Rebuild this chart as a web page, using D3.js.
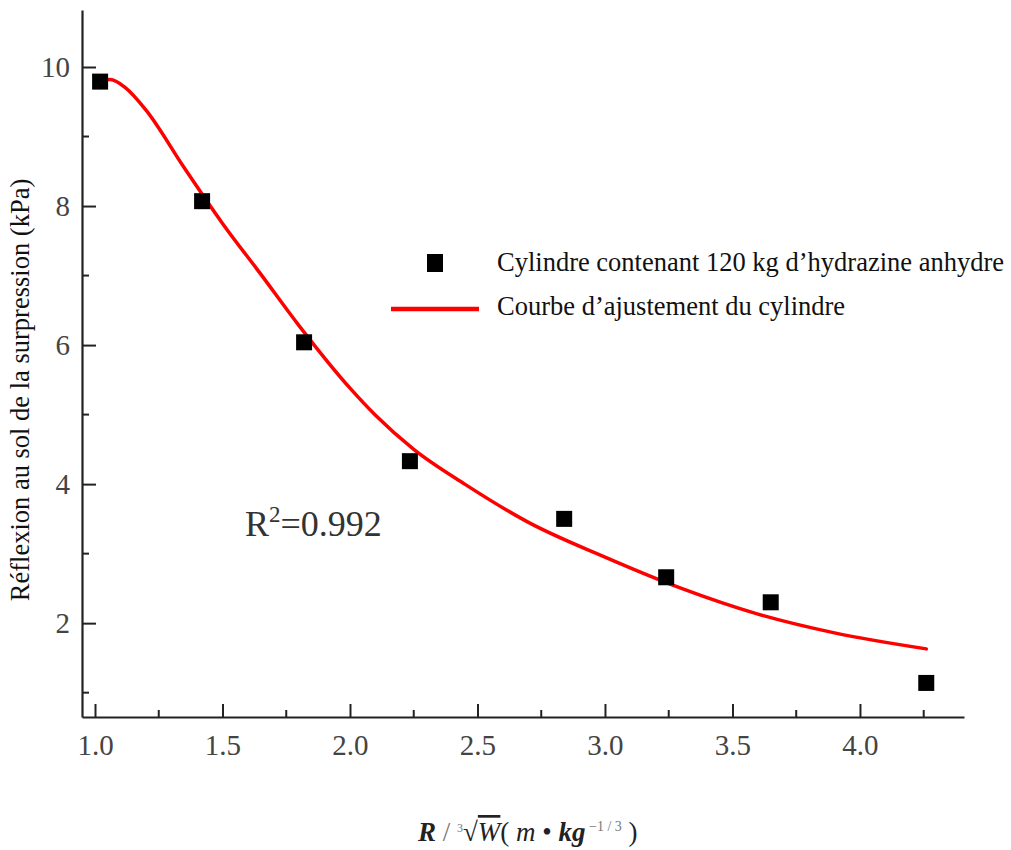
<!DOCTYPE html>
<html>
<head>
<meta charset="utf-8">
<script src="https://cdn.jsdelivr.net/npm/d3@7"></script>
<style>
  body { margin: 0; background: #fff; }
  text { font-family: "Liberation Serif", "Times New Roman", serif; }
</style>
</head>
<body>
<div id="root"></div>
<script>
// measured points (scaled distance vs overpressure)
var pointX = [1.02, 1.42, 1.82, 2.235, 2.84, 3.24, 3.65, 4.26];
var pointY = [9.79, 8.07, 6.04, 4.33, 3.50, 2.66, 2.30, 1.14];

// fitted curve
var fitX = [1.02, 1.06, 1.12, 1.20, 1.35, 1.50, 1.65, 1.80, 2.00, 2.10, 2.25, 2.45, 2.70, 3.00, 3.30, 3.60, 3.90, 4.26];
var fitY = [9.80, 9.82, 9.70, 9.38, 8.55, 7.75, 7.02, 6.28, 5.38, 4.99, 4.50, 4.00, 3.45, 2.95, 2.50, 2.13, 1.86, 1.63];

var xTicks = [1.0, 1.5, 2.0, 2.5, 3.0, 3.5, 4.0];
var xMinor = [1.25, 1.75, 2.25, 2.75, 3.25, 3.75, 4.25];
var yTicks = [2, 4, 6, 8, 10];
var yMinor = [1, 3, 5, 7, 9];

var seriesNames = ["Cylindre contenant 120 kg d\u2019hydrazine anhydre", "Courbe d\u2019ajustement du cylindre"];

var width = 1011, height = 850;

var svg = d3.select("#root").append("svg")
    .attr("width", width)
    .attr("height", height);

var x = d3.scaleLinear().domain([0.949, 4.408]).range([82, 964]);
var y = d3.scaleLinear().domain([0.65, 10.82]).range([717, 10]);

var axisColor = "#222";
var tickFont = "Liberation Serif, Times New Roman, serif";

//x axis, ticks pointing inward
var gx = svg.append("g").attr("transform", "translate(0,717)");
gx.call(d3.axisBottom(x).tickValues(xTicks).tickSizeInner(-13).tickSizeOuter(0)
    .tickFormat(d3.format(".1f")).tickPadding(17));
gx.selectAll(".tick line").attr("stroke", axisColor).attr("stroke-width", 2);
gx.selectAll(".tick text").attr("font-size", 29).attr("fill", "#444")
    .attr("font-family", tickFont);
gx.select(".domain").attr("stroke", axisColor).attr("stroke-width", 2.2);
gx.selectAll(".minor").data(xMinor).enter().append("line")
    .attr("x1", function (d) { return x(d); })
    .attr("x2", function (d) { return x(d); })
    .attr("y1", 0).attr("y2", -7)
    .attr("stroke", axisColor).attr("stroke-width", 2);

//y axis
var gy = svg.append("g").attr("transform", "translate(82,0)");
gy.call(d3.axisLeft(y).tickValues(yTicks).tickSizeInner(-14).tickSizeOuter(0)
    .tickFormat(d3.format("d")).tickPadding(12));
gy.selectAll(".tick line").attr("stroke", axisColor).attr("stroke-width", 2);
gy.selectAll(".tick text").attr("font-size", 29).attr("fill", "#444")
    .attr("font-family", tickFont);
gy.select(".domain").attr("stroke", axisColor).attr("stroke-width", 2.2);
gy.selectAll(".minor").data(yMinor).enter().append("line")
    .attr("y1", function (d) { return y(d); })
    .attr("y2", function (d) { return y(d); })
    .attr("x1", 0).attr("x2", 7)
    .attr("stroke", axisColor).attr("stroke-width", 2);

//fitted curve
var fit = fitX.map(function (d, i) { return [d, fitY[i]]; });
var line = d3.line()
    .x(function (d) { return x(d[0]); })
    .y(function (d) { return y(d[1]); })
    .curve(d3.curveMonotoneX);

svg.append("path")
    .datum(fit)
    .attr("d", line)
    .attr("fill", "none")
    .attr("stroke", "#ff0000")
    .attr("stroke-width", 3.5)
    .attr("stroke-linecap", "round");

//square markers
var sq = 16;
svg.selectAll(".pt")
    .data(pointX)
    .enter()
    .append("rect")
    .attr("class", "pt")
    .attr("x", function (d) { return x(d) - sq / 2; })
    .attr("y", function (d, i) { return y(pointY[i]) - sq / 2; })
    .attr("width", sq)
    .attr("height", sq)
    .attr("fill", "#000");

//legend
svg.append("rect")
    .attr("x", 427).attr("y", 254).attr("width", 16).attr("height", 18)
    .attr("fill", "#000");
svg.append("text").attr("x", 497).attr("y", 271)
    .attr("font-size", 26.5).attr("fill", "#111").text(seriesNames[0]);
svg.append("line")
    .attr("x1", 391).attr("x2", 479).attr("y1", 309).attr("y2", 309)
    .attr("stroke", "#ff0000").attr("stroke-width", 4.5);
svg.append("text").attr("x", 497).attr("y", 315)
    .attr("font-size", 26.5).attr("fill", "#111").text(seriesNames[1]);

//R squared
var r2 = svg.append("text").attr("x", 245).attr("y", 536)
    .attr("font-size", 36).attr("fill", "#333");
r2.append("tspan").text("R");
r2.append("tspan").attr("dy", -14).attr("font-size", 23).text("2");
r2.append("tspan").attr("dy", 14).text("=0.992");

//y axis title
svg.append("text")
    .attr("transform", "translate(29,390) rotate(-90)")
    .attr("text-anchor", "middle")
    .attr("font-size", 26.5).attr("fill", "#111")
    .text("R\u00e9flexion au sol de la surpression (kPa)");

//x axis title
var xt = svg.append("text").attr("x", 418).attr("y", 841)
    .attr("font-size", 27).attr("fill", "#222");
xt.append("tspan").attr("font-style", "italic").attr("font-weight", "bold").text("R");
xt.append("tspan").attr("fill", "#777").text(" / ");
xt.append("tspan").attr("dy", -9).attr("font-size", 12).attr("fill", "#777").text("3");
xt.append("tspan").attr("dy", 9).text("\u221A");
xt.append("tspan").attr("font-style", "italic").attr("text-decoration", "overline").text("W");
xt.append("tspan").text("( ");
xt.append("tspan").attr("font-style", "italic").text("m");
xt.append("tspan").text(" \u2022 ");
xt.append("tspan").attr("font-style", "italic").attr("font-weight", "bold").text("kg");
xt.append("tspan").attr("dy", -10).attr("font-size", 14).attr("fill", "#777").text(" \u22121 / 3");
xt.append("tspan").attr("dy", 10).text(" )");
</script>
</body>
</html>
